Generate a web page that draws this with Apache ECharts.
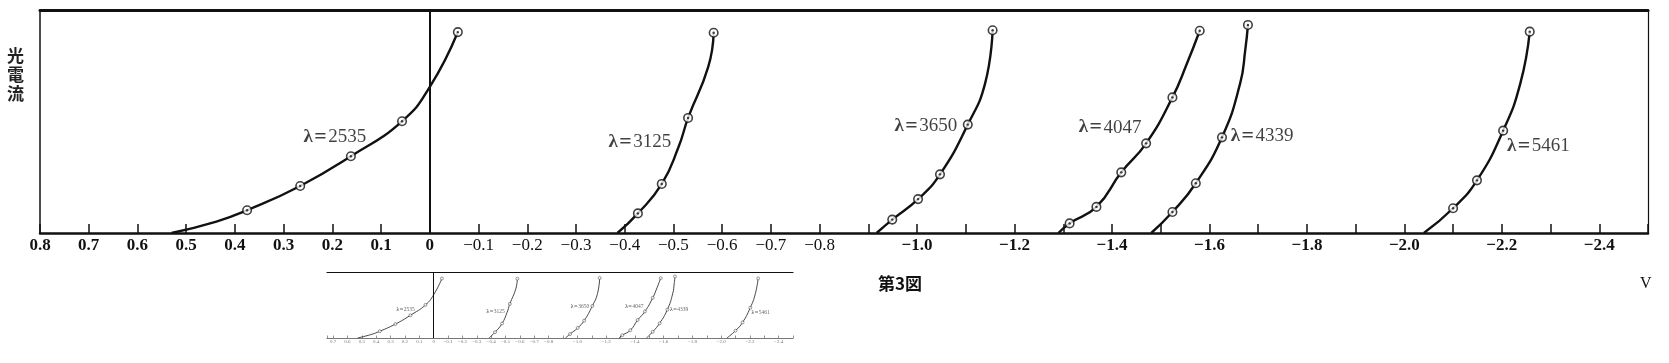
<!DOCTYPE html>
<html>
<head>
<meta charset="utf-8">
<script src="https://cdn.jsdelivr.net/npm/echarts@6/dist/echarts.min.js"></script>
<style>
html,body{margin:0;padding:0;background:#fff;}
#c{width:1669px;height:363px;}
</style>
</head>
<body>
<div id="c"></div>
<script>
// ---- data (retarding voltage V, photocurrent in arbitrary units 0-100) ----
const curveNames = ['2535','3125','3650','4047','4339','5461'];

const c2535_v = [0.53, 0.438, 0.375, 0.266, 0.162, 0.057, 0.0, -0.0575];
const c2535_i = [0, 5.1, 10.2, 21.1, 34.4, 50.1, 65.5, 90.1];
const c3125_v = [-0.385, -0.427, -0.476, -0.5106, -0.530, -0.5715, -0.5825];
const c3125_i = [0, 8.8, 22.0, 38.7, 51.6, 74.6, 89.8];
const c3650_v = [-0.917, -0.949, -1.002, -1.047, -1.104, -1.1396, -1.155];
const c3650_i = [0, 6.0, 15.2, 26.3, 48.6, 67.1, 90.9];
const c4047_v = [-1.290, -1.313, -1.368, -1.419, -1.470, -1.524, -1.554, -1.580];
const c4047_i = [0, 4.3, 11.7, 27.2, 40.2, 60.8, 76.1, 90.7];
const c4339_v = [-1.4805, -1.524, -1.572, -1.6257, -1.663, -1.6735, -1.679];
const c4339_i = [0, 9.4, 22.3, 42.9, 67.1, 82.1, 93.3];
const c5461_v = [-2.040, -2.100, -2.149, -2.2027, -2.238, -2.2573];
const c5461_i = [0, 11.1, 23.6, 45.9, 67.1, 90.3];

// measured points (⊙)
const m2535_v = [0.375, 0.266, 0.162, 0.057, -0.0575];
const m2535_i = [10.2, 21.1, 34.4, 50.1, 90.1];
const m3125_v = [-0.427, -0.476, -0.530, -0.5825];
const m3125_i = [8.8, 22.0, 51.6, 89.8];
const m3650_v = [-0.949, -1.002, -1.047, -1.104, -1.155];
const m3650_i = [6.0, 15.2, 26.3, 48.6, 90.9];
const m4047_v = [-1.313, -1.368, -1.419, -1.470, -1.524, -1.580];
const m4047_i = [4.3, 11.7, 27.2, 40.2, 60.8, 90.7];
const m4339_v = [-1.524, -1.572, -1.6257, -1.679];
const m4339_i = [9.4, 22.3, 42.9, 93.3];
const m5461_v = [-2.100, -2.149, -2.2027, -2.2573];
const m5461_i = [11.1, 23.6, 45.9, 90.3];

// label anchor positions (data coords)
const label_v = [0.195, -0.431, -1.018, -1.396, -1.708, -2.275];
const label_i = [43.0, 40.6, 48.0, 47.3, 43.3, 39.0];

// x tick labels
const xLabelTenths = [8,7,6,5,4,3,2,1,0,-1,-2,-3,-4,-5,-6,-7,-8,-10,-12,-14,-16,-18,-20,-22,-24];
const xLabelTexts  = ['0.8','0.7','0.6','0.5','0.4','0.3','0.2','0.1','0','−0.1','−0.2','−0.3','−0.4','−0.5','−0.6','−0.7','−0.8','−1.0','−1.2','−1.4','−1.6','−1.8','−2.0','−2.2','−2.4'];

const yLabel = '光\n電\n流';
const unitLabel = 'V';
const caption = '第3図';

// ---- build ----
const curvesV = [c2535_v,c3125_v,c3650_v,c4047_v,c4339_v,c5461_v];
const curvesI = [c2535_i,c3125_i,c3650_i,c4047_i,c4339_i,c5461_i];
const marksV = [m2535_v,m3125_v,m3650_v,m4047_v,m4339_v,m5461_v];
const marksI = [m2535_i,m3125_i,m3650_i,m4047_i,m4339_i,m5461_i];
const zip = (a,b)=>a.map((x,k)=>[x,b[k]]);

const labelMap = {};
xLabelTenths.forEach((t,k)=>{labelMap[t]=xLabelTexts[k];});
function fmt(small){
  return function(v){
    const t = Math.round(v*10);
    if (Math.abs(v*10 - t) > 0.01) return '';
    const s = labelMap[t];
    if (s === undefined) return '';
    if (small) return s;
    return (t < 0 && t >= -8) ? '{n|'+s+'}' : '{b|'+s+'}';
  };
}

const serif = '"Liberation Serif","DejaVu Serif",serif';
const cjk = '"Noto Sans CJK JP","Noto Sans CJK SC",sans-serif';
const ink = '#111';

function xAxisFor(grid, min, small){
  return {
    type:'value', gridIndex:grid, min:min, max: small ? 0.742 : 0.8, interval:0.1, inverse:true,
    position:'bottom',
    axisLine:{show:true, onZero:false, lineStyle:{color: small ? '#777' : ink, width: small ? 1.2 : 2.5}},
    axisTick:{show:true, inside:true, length: small ? 2.5 : 9, lineStyle:{color: small ? '#777' : ink, width: small ? 0.8 : 1.5}},
    axisLabel:{show:true, interval:0, hideOverlap:false, showMinLabel:true, showMaxLabel:true,
      margin: small ? 1.5 : 4, formatter: fmt(small),
      color: small ? '#777' : ink, fontFamily: serif, fontSize: small ? 5 : 17,
      rich: small ? {} : {b:{fontFamily:serif,fontSize:17,fontWeight:'bold',color:ink}, n:{fontFamily:serif,fontSize:17,fontWeight:'normal',color:ink}}},
    splitLine:{show:false}
  };
}
function topAxisFor(grid, small){
  return {
    type:'value', gridIndex:grid, min:-2.5, max: small ? 0.742 : 0.8, inverse:true, position:'top',
    axisLine:{show:true, onZero:false, lineStyle:{color:ink, width: small ? 1.2 : 3}},
    axisTick:{show:false}, axisLabel:{show:false}, splitLine:{show:false}
  };
}
function yAxisFor(grid, pos, show, w){
  return {
    type:'value', gridIndex:grid, min:0, max:100, position:pos,
    axisLine:{show:show, onZero:false, lineStyle:{color:ink, width:w}},
    axisTick:{show:false}, axisLabel:{show:false}, splitLine:{show:false}
  };
}

const series = [];
function addSet(xi, yi, small){
  curvesV.forEach((cv,k)=>{
    const s = {
      type:'line', xAxisIndex:xi, yAxisIndex:yi, data: zip(cv, curvesI[k]),
      showSymbol:false, smooth:0.5, silent:true,
      lineStyle:{color: small ? '#333' : ink, width: small ? 0.9 : 2.4}
    };
    if (k===0){
      s.markLine = {silent:true, symbol:['none','none'], label:{show:false},
        lineStyle:{color:ink, type:'solid', width: small ? 1 : 2}, data:[{xAxis:0}]};
    }
    series.push(s);
  });
  const allMarks = [];
  marksV.forEach((mv,k)=>{ zip(mv, marksI[k]).forEach(p=>allMarks.push(p)); });
  series.push({type:'scatter', xAxisIndex:xi, yAxisIndex:yi, data:allMarks, symbol:'circle',
    symbolSize: small ? 3 : 8.5, silent:true, z:5,
    itemStyle:{color:'#fff', borderColor: small ? '#333' : ink, borderWidth: small ? 0.6 : 1.6}});
  if (!small){
    series.push({type:'scatter', xAxisIndex:xi, yAxisIndex:yi, data:allMarks, symbol:'circle',
      symbolSize:2.4, silent:true, z:6, itemStyle:{color:ink}});
  }
  const fs = small ? 5.5 : 19;
  series.push({type:'scatter', xAxisIndex:xi, yAxisIndex:yi, symbolSize:0, silent:true, z:7,
    data: label_v.map((v,k)=>({value:[v,label_i[k]], name:curveNames[k]})),
    label:{show:true, position:'inside',
      formatter: p => '{l|λ}{e|=}{d|' + p.name + '}',
      rich:{
        l:{fontFamily:serif, fontSize:fs, fontWeight:'bold', color: small ? '#444' : ink},
        e:{fontFamily:serif, fontSize:fs*1.15, fontWeight:'bold', color: small ? '#444' : ink, padding:[0, small?0.5:1.5, 0, small?0.5:1.5]},
        d:{fontFamily:serif, fontSize:fs, color: small ? '#444' : ink}
      }}});
}
addSet(0,0,false);
addSet(2,2,true);

const option = {
  animation:false,
  backgroundColor:'#fff',
  title:[
    {text:yLabel, left:7, top:46, padding:0, textStyle:{fontFamily:cjk, fontSize:17, lineHeight:19, fontWeight:'bold', color:'#222'}},
    {text:unitLabel, left:1640, top:276, padding:0, textStyle:{fontFamily:serif, fontSize:16, fontWeight:'normal', color:ink}},
    {text:caption, left:878, top:275, padding:0, textStyle:{fontFamily:cjk, fontSize:17, fontWeight:'bold', color:ink}}
  ],
  grid:[
    {left:40, right:21, top:10, bottom:130, containLabel:false},
    {left:327, right:876, top:272, bottom:25, containLabel:false}
  ],
  xAxis:[xAxisFor(0,-2.5,false), topAxisFor(0,false), xAxisFor(1,-2.5,true), topAxisFor(1,true)],
  yAxis:[yAxisFor(0,'left',true,1.5), yAxisFor(0,'right',true,1.2), yAxisFor(1,'left',false,1)],
  series: series
};
echarts.init(document.getElementById('c'), null, {renderer:'canvas'}).setOption(option);
</script>
</body>
</html>
